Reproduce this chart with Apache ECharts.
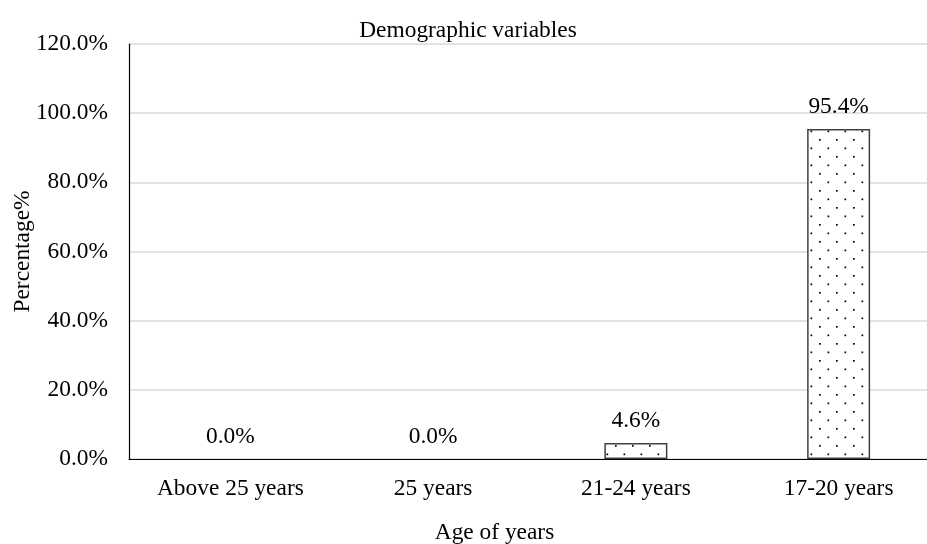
<!DOCTYPE html>
<html><head><meta charset="utf-8">
<script src="https://cdn.jsdelivr.net/npm/echarts@6/dist/echarts.min.js"></script>
<style>html,body{margin:0;padding:0;background:#fff}#c{width:927px;height:544px}</style>
</head><body><div id="c"></div>
<script>
const categories = ['Above 25 years', '25 years', '21-24 years', '17-20 years'];
const values = [0.0, 0.0, 4.6, 95.4];
const yTicks = [0, 20, 40, 60, 80, 100, 120];

const FONT = '"Liberation Serif", "Times New Roman", serif';
const FS = 23.4;
const tile = document.createElement('canvas');
tile.width = 17; tile.height = 17;
const ctx = tile.getContext('2d');
ctx.fillStyle = '#fff'; ctx.fillRect(0, 0, 17, 17);
ctx.fillStyle = '#000';
ctx.fillRect(3, 3, 1.7, 1.7);
ctx.fillRect(11.5, 11.5, 1.7, 1.7);

const chart = echarts.init(document.getElementById('c'));
chart.setOption({
  animation: false,
  title: { text: 'Demographic variables', left: 463, textAlign: 'center', top: 14,
    textStyle: { fontFamily: FONT, fontSize: FS, fontWeight: 'normal', color: '#000' } },
  grid: { left: 129, width: 811, top: 44, height: 415, containLabel: false, outerBoundsMode: 'none' },
  xAxis: {
    type: 'category', data: categories,
    name: 'Age of years', nameLocation: 'middle', nameGap: 62, nameMoveOverlap: false,
    nameTextStyle: { fontFamily: FONT, fontSize: FS, color: '#000', padding: [0, 80, 0, 0] },
    axisLine: { lineStyle: { color: '#000', width: 1.2 } },
    axisTick: { show: false },
    axisLabel: { fontFamily: FONT, fontSize: FS, color: '#000', margin: 18 }
  },
  yAxis: {
    type: 'value', min: yTicks[0], max: yTicks[yTicks.length - 1], interval: 20,
    name: 'Percentage%', nameLocation: 'middle', nameGap: 95, nameMoveOverlap: false,
    nameTextStyle: { fontFamily: FONT, fontSize: FS, color: '#000' },
    axisLine: { show: true, lineStyle: { color: '#000', width: 1.2 } },
    axisTick: { show: false },
    splitLine: { lineStyle: { color: '#d9d9d9', width: 1.5 } },
    axisLabel: { fontFamily: FONT, fontSize: FS, color: '#000', margin: 21,
      formatter: v => v.toFixed(1) + '%' }
  },
  series: [{
    type: 'bar', barWidth: 63,
    data: values.map(v => v === 0 ? { value: v, itemStyle: { borderWidth: 0 } } : v),
    itemStyle: { color: { image: tile, repeat: 'repeat' }, borderColor: '#404040', borderWidth: 1.5 },
    label: { show: true, position: 'top', distance: 11, fontFamily: FONT, fontSize: FS, color: '#000',
      formatter: p => p.value.toFixed(1) + '%' }
  }]
});
</script></body></html>
